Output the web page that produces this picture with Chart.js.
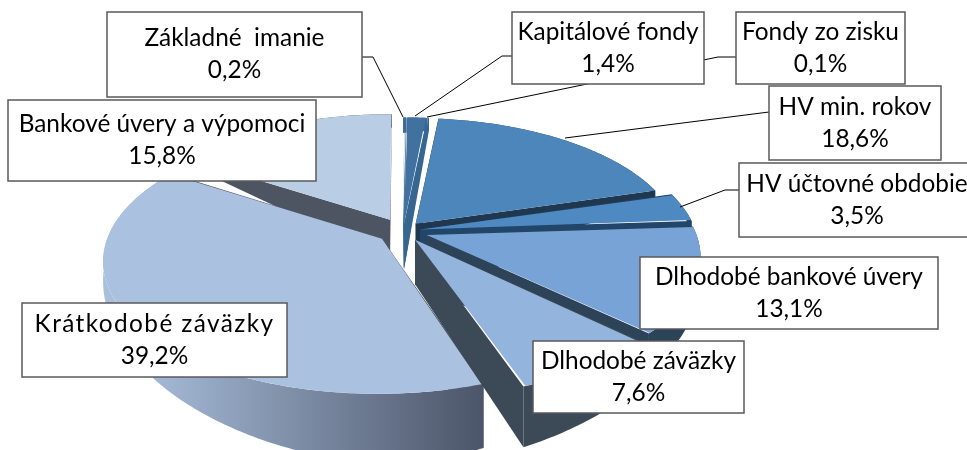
<!DOCTYPE html>
<html><head><meta charset="utf-8">
<style>html,body{margin:0;padding:0;background:#fff;overflow:hidden}canvas{display:block}</style>
<script src="https://cdn.jsdelivr.net/npm/chart.js@4"></script>
</head><body><canvas id="c" width="967" height="450"></canvas>
<script>
const categories=["Základné  imanie","Kapitálové fondy","Fondy zo zisku","HV min. rokov","HV účtovné obdobie","Dlhodobé bankové úvery","Dlhodobé záväzky","Krátkodobé záväzky","Bankové úvery a výpomoci"];
const shares=[0.2,1.4,0.1,18.6,3.5,13.1,7.6,39.2,15.8];
const explode=[40,40,40,80,70,100,88,106,110];
const topColors=["#3f6f9e","#41729f","#3a6a96","#4c86ba","#4f89c2","#77a3d6","#93b4dc","#abc1e0","#b9cde5"];
const wallColors=["#3a6a96","#39699a","#376691","#1f3850","#22456a","#2c4358","#3c4a58","#4d5563","#4d5563"];
const rimStops=[null,null,null,null,null,null,null,["#a9bfdc","#4c5569"],null];
const boxes=[[107,12,362,97],[512,12,704,84],[736,12,905,84],[769,86,941,160],[739,163,975,237],[640,257,938,329],[533,341,744,413],[22,303,287,377],[8,100,316,181]];
const textStretch=[0,0,0,0,0,0,0,1.4,0];
const leaders=[[[362,57],[373,57],[403,117]],[[512,56],[502,56],[415,116]],[[736,57],[718,57],[427,117]],[[769,112],[565,138]],[[739,190],[725,190],[680,207]],[],[],[],[]];
const CX=403,CY=231,TILT=0.47,PERSP=0.00058;

const project=(X,Z)=>{const s=1/(1-PERSP*Z);return [CX+X*s,CY+TILT*Z*s];};
const depth=(X,Z)=>Math.max(6,44+0.1*Z-0.108*Math.abs(X));

function projectedContext(ctx,ox,oy,probe){
  let tx=0,ty=0;const stack=[];
  const put=(x,y)=>{if(probe)return;const p=project(x+tx-ox,y+ty-oy);ctx.lineTo(p[0],p[1]);};
  const over={
    save(){stack.push([tx,ty]);if(!probe)ctx.save();},
    restore(){[tx,ty]=stack.pop();if(!probe)ctx.restore();},
    translate(x,y){tx+=x;ty+=y;},
    moveTo(x,y){put(x,y);},lineTo(x,y){put(x,y);},
    arc(x,y,r,a0,a1,ccw){
      if(!(r>0)||!isFinite(a0)||!isFinite(a1)){put(x,y);return;}
      if(probe&&!probe.r){probe.r=r;probe.ax=tx;probe.az=ty;return;}
      const n=Math.max(2,Math.ceil(Math.abs(a1-a0)/0.015));
      for(let i=0;i<=n;i++){const a=a0+(a1-a0)*i/n;put(x+Math.cos(a)*r,y+Math.sin(a)*r);}
    }
  };
  if(probe){for(const k of ['beginPath','closePath','fill','stroke','clip','setLineDash'])over[k]=()=>{};}
  return new Proxy(ctx,{
    get(t,k){if(k in over)return over[k];const v=t[k];return typeof v==='function'?v.bind(t):v;},
    set(t,k,v){if(!probe)t[k]=v;return true;}
  });
}

const pie3d={
  id:'pie3d',
  beforeDatasetDraw(chart){
    const ctx=chart.ctx;
    const arcs=chart.getDatasetMeta(0).data.map((arc,i)=>{
      const g=arc.getProps(['x','y','startAngle','endAngle'],true);
      const probe={};arc.draw(projectedContext(ctx,g.x,g.y,probe));
      return {arc,i,g,R:probe.r,ax:probe.ax,az:probe.az,mid:(g.startAngle+g.endAngle)/2};
    }).sort((a,b)=>Math.sin(a.mid)-Math.sin(b.mid));
    for(const s of arcs){
      const {g,R,ax,az,i}=s;
      const rimTop=[],rimLow=[];
      const n=Math.max(2,Math.ceil((g.endAngle-g.startAngle)/0.015));
      for(let k=0;k<=n;k++){
        const a=g.startAngle+(g.endAngle-g.startAngle)*k/n;
        const X=ax+Math.cos(a)*R,Z=az+Math.sin(a)*R,p=project(X,Z);
        rimTop.push(p);rimLow.push([p[0],p[1]+depth(X,Z)]);
      }
      const apex=project(ax,az),apexD=depth(ax,az);
      const poly=pts=>{ctx.beginPath();pts.forEach((p,j)=>j?ctx.lineTo(p[0],p[1]):ctx.moveTo(p[0],p[1]));ctx.closePath();ctx.fill();};
      ctx.fillStyle=wallColors[i];
      poly([apex,[apex[0],apex[1]+apexD],rimLow[0],rimTop[0]]);
      poly([apex,[apex[0],apex[1]+apexD],rimLow[n],rimTop[n]]);
      if(rimStops[i]){
        const xs=rimTop.map(p=>p[0]),gr=ctx.createLinearGradient(Math.min(...xs)+30,0,Math.max(...xs),0);
        gr.addColorStop(0,rimStops[i][0]);gr.addColorStop(1,rimStops[i][1]);ctx.fillStyle=gr;
      }
      poly(rimTop.concat(rimLow.slice().reverse()));
      s.arc.draw(projectedContext(ctx,g.x,g.y));
    }
    return false;
  },
  afterDraw(chart){
    const ctx=chart.ctx;
    ctx.save();
    ctx.strokeStyle='#000';ctx.lineWidth=1;
    leaders.forEach(l=>{if(!l.length)return;ctx.beginPath();l.forEach((p,j)=>j?ctx.lineTo(p[0],p[1]):ctx.moveTo(p[0],p[1]));ctx.stroke();});
    ctx.font='24.4px Lato';ctx.textAlign='center';ctx.textBaseline='middle';
    categories.forEach((name,i)=>{
      const [l,t,r,b]=boxes[i];
      ctx.fillStyle='#fff';ctx.fillRect(l,t,r-l,b-t);
      ctx.strokeStyle='#5a5a5a';ctx.lineWidth=1.5;ctx.strokeRect(l,t,r-l,b-t);
      const x=i===4?857:(l+r)/2,m=(t+b)/2;
      ctx.fillStyle='#000';
      ctx.letterSpacing=textStretch[i]+'px';
      ctx.fillText(name,x,m-16);
      ctx.letterSpacing='0px';
      ctx.fillText(shares[i].toFixed(1).replace('.',',')+'%',x,m+16);
    });
    ctx.restore();
  }
};

new Chart(document.getElementById('c'),{
  type:'pie',
  data:{labels:categories,datasets:[{data:shares,backgroundColor:topColors,offset:explode,borderWidth:0,clip:false}]},
  options:{responsive:false,animation:false,radius:262,
    plugins:{legend:{display:false},tooltip:{enabled:false}}},
  plugins:[pie3d]
});
</script></body></html>
